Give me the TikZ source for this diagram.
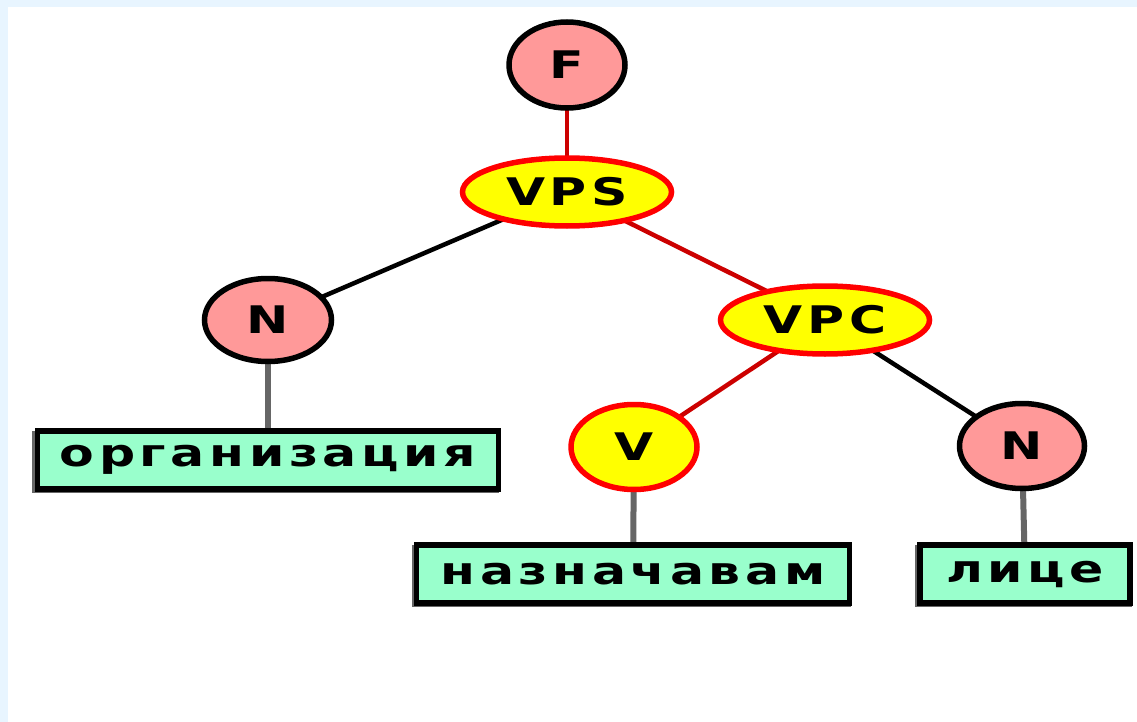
\documentclass[tikz,border=0pt]{standalone}
\usepackage{fontspec}
\usetikzlibrary{shapes.geometric}
\newfontfamily\lab[LetterSpace=9]{DejaVu Sans}
\definecolor{bgblue}{HTML}{E8F5FF}
\definecolor{pinkf}{HTML}{FF9999}
\definecolor{yell}{HTML}{FFFF00}
\definecolor{mint}{HTML}{99FFCC}
\definecolor{edred}{HTML}{CC0000}
\definecolor{edgray}{HTML}{666666}
\newcommand{\wide}[1]{\scalebox{1.33}[1]{#1}}
\tikzset{
  lbl/.style={font=\fontsize{38}{44}\selectfont\lab\bfseries},
  pinknode/.style={ellipse, draw=black, line width=5.5pt, fill=pinkf, lbl, inner sep=0pt},
  yellnode/.style={ellipse, draw=red, line width=5.5pt, fill=yell, lbl, inner sep=0pt},
  wordbox/.style={rectangle, draw=black, line width=5.5pt, fill=mint, lbl, inner sep=0pt},
  boxshadow/.style={draw=edgray, line width=3.5pt},
  rededge/.style={edred, line width=4.5pt},
  blkedge/.style={black, line width=4.5pt},
  grayedge/.style={edgray, line width=6pt},
}
\begin{document}
\begin{tikzpicture}[x=1pt,y=-1pt]
\useasboundingbox (0,0) rectangle (1137,722);
\fill[bgblue] (0,0) rectangle (1137,722);
\fill[white] (8,7) rectangle (1137,722);
\path (567,65) coordinate (cF) (567,192) coordinate (cVPS) (268,320) coordinate (cN1)
      (825,320) coordinate (cVPC) (634,447) coordinate (cV) (1022,446) coordinate (cN2)
      (268,460) coordinate (corg) (633,574) coordinate (cnaz) (1025,574) coordinate (clic);
\draw[boxshadow] (34,433) rectangle (497,491);
\draw[boxshadow] (414,547) rectangle (849,605);
\draw[boxshadow] (917,547) rectangle (1130,605);
\draw[rededge] (cF) -- (cVPS);
\draw[blkedge] (cVPS) -- (cN1);
\draw[rededge] (cVPS) -- (cVPC);
\draw[rededge] (cVPC) -- (cV);
\draw[blkedge] (cVPC) -- (cN2);
\draw[grayedge] (cN1) -- (corg);
\draw[grayedge] (cV) -- (cnaz);
\draw[grayedge] (cN2) -- (clic);
\node[pinknode, minimum width=116pt, minimum height=86pt] (F) at (cF) {\wide{F}};
\node[yellnode, minimum width=209pt, minimum height=68pt] (VPS) at (cVPS) {\wide{VPS}};
\node[pinknode, minimum width=127pt, minimum height=83pt] (N1) at (cN1) {\wide{N}};
\node[yellnode, minimum width=209pt, minimum height=68pt] (VPC) at (cVPC) {\wide{VPC}};
\node[yellnode, minimum width=126pt, minimum height=85pt] (V) at (cV) {\wide{V}};
\node[pinknode, minimum width=125pt, minimum height=85pt] (N2) at (cN2) {\wide{N}};
\node[wordbox, minimum width=461pt, minimum height=58pt] (org) at (corg) {\wide{организация}};
\node[wordbox, minimum width=433pt, minimum height=58pt] (naz) at (cnaz) {\wide{назначавам}};
\node[wordbox, minimum width=210pt, minimum height=58pt] (lic) at (clic) {\wide{лице}};
\end{tikzpicture}
\end{document}
